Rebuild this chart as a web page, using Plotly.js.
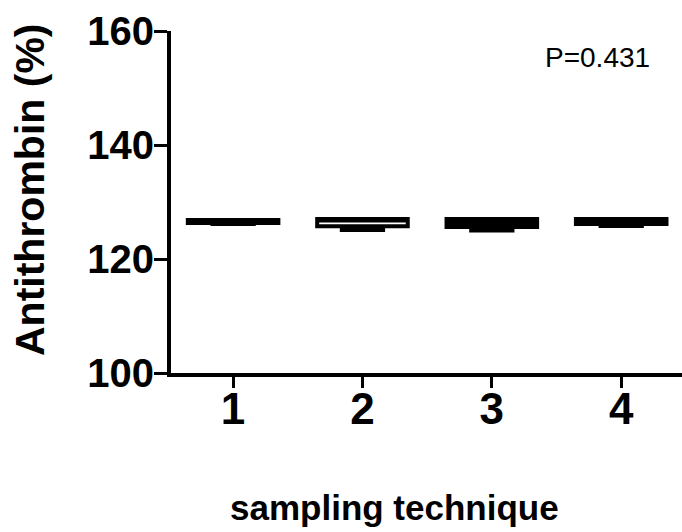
<!DOCTYPE html>
<html>
<head>
<meta charset="utf-8">
<script src="https://cdn.plot.ly/plotly-3.0.1.min.js"></script>
<style>
  html, body { margin: 0; padding: 0; background: #fff; }
  #chart { width: 682px; height: 532px; }
</style>
</head>
<body>
<div id="chart"></div>
<script>
// Antithrombin activity (%) per sampling technique — box summary statistics
const techniques = [1, 2, 3, 4];
const q1Values = [126.32, 125.75, 125.6, 126.14];
const medianValues = [126.6, 126.74, 126.3, 126.6];
const q3Values = [126.84, 127.02, 127.02, 127.02];
const lowerWhisker = [126.14, 125.1, 125.0, 125.79];
const upperWhisker = [126.84, 127.02, 127.02, 127.02];
const yTicks = [100, 120, 140, 160];
const pValueLabel = 'P=0.431';
const xTitle = 'sampling technique';
const yTitle = 'Antithrombin (%)';

const FONT = 'Liberation Sans, Arial, sans-serif';

const boxTrace = {
  type: 'box',
  x: techniques,
  q1: q1Values,
  median: medianValues,
  q3: q3Values,
  lowerfence: lowerWhisker,
  upperfence: upperWhisker,
  width: 0.7,
  whiskerwidth: 0.5,
  fillcolor: '#ffffff',
  line: { color: '#000000', width: 4 },
  boxpoints: false,
  hoverinfo: 'skip',
  showlegend: false
};

const layout = {
  width: 682,
  height: 532,
  margin: { l: 171, r: 0, t: 31, b: 159 },
  paper_bgcolor: '#ffffff',
  plot_bgcolor: '#ffffff',
  font: { family: FONT, color: '#000000' },
  xaxis: {
    range: [0.52, 4.47],
    tickmode: 'array',
    tickvals: techniques,
    ticktext: techniques.map(String),
    ticks: 'outside',
    ticklen: 11,
    tickwidth: 3,
    tickcolor: '#000000',
    ticklabelstandoff: -17,
    showline: true,
    linecolor: '#000000',
    linewidth: 4,
    showgrid: false,
    zeroline: false,
    tickfont: { size: 44, family: FONT, weight: 'bold' },
    automargin: false
  },
  yaxis: {
    range: [100, 160],
    tickmode: 'array',
    tickvals: yTicks,
    ticktext: yTicks.map(String),
    ticks: 'outside',
    ticklen: 13,
    tickwidth: 3,
    tickcolor: '#000000',
    ticklabelstandoff: -8,
    showline: true,
    linecolor: '#000000',
    linewidth: 4,
    showgrid: false,
    zeroline: false,
    tickfont: { size: 40, family: FONT, weight: 'bold' },
    automargin: false
  },
  annotations: [
    {
      // axis title: x
      x: 0.438, y: -0.393, xref: 'paper', yref: 'paper',
      text: '<b>' + xTitle + '</b>', showarrow: false,
      xanchor: 'center', yanchor: 'middle',
      font: { size: 35, family: FONT, color: '#000000' }
    },
    {
      // axis title: y
      x: -0.276, y: 0.535, xref: 'paper', yref: 'paper',
      text: '<b>' + yTitle + '</b>', showarrow: false, textangle: -90,
      xanchor: 'center', yanchor: 'middle',
      font: { size: 41, family: FONT, color: '#000000' }
    },
    {
      x: 3.815, y: 155.35, xref: 'x', yref: 'y',
      text: pValueLabel, showarrow: false,
      xanchor: 'center', yanchor: 'middle',
      font: { size: 28, family: FONT, color: '#000000' }
    }
  ]
};

Plotly.newPlot('chart', [boxTrace], layout, { staticPlot: true, displayModeBar: false });
</script>
</body>
</html>
